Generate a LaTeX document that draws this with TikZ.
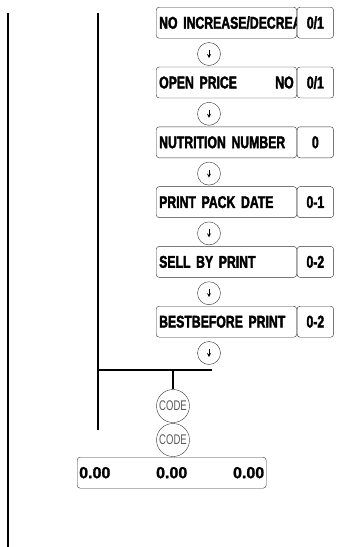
\documentclass[tikz,border=0pt]{standalone}
\usepackage{fontspec}
\usetikzlibrary{arrows}
\newfontfamily\boxfont[FakeStretch=0.72,FakeBold=2]{Liberation Sans}
\newfontfamily\codefont[FakeStretch=0.68]{Liberation Sans}
\newfontfamily\sumfont[FakeBold=1.5]{Liberation Sans}

\begin{document}
\begin{tikzpicture}[x=1pt,y=-1pt,
    itembox/.style = {draw=black!80, rounded corners=3pt, anchor=north west,
        minimum width=140.5pt, minimum height=31pt, text width=134.5pt,
        inner xsep=3pt, inner ysep=0pt, align=left,
        font=\boxfont\bfseries\fontsize{17}{19}\selectfont},
    valbox/.style = {draw=black!80, fill=white, rounded corners=3pt, anchor=north west,
        minimum width=36.5pt, minimum height=31pt, inner sep=0pt,
        font=\boxfont\bfseries\fontsize{17}{19}\selectfont},
    stepcircle/.style = {circle, draw=black!80, minimum size=23pt, inner sep=0pt},
    codecircle/.style = {circle, draw=black!80, minimum size=33pt, inner sep=0pt,
        text=black!65, font=\codefont\fontsize{14}{15}\selectfont},
    sumbox/.style = {draw=black!80, rounded corners=3pt, anchor=north west,
        minimum width=189pt, minimum height=31pt, text width=185pt,
        inner xsep=2pt, inner ysep=0pt, align=left,
        font=\sumfont\bfseries\fontsize{16}{18}\selectfont}]
\useasboundingbox (0,0) rectangle (352,547);
% side lines
\draw[line width=1.2pt] (8,13) -- (8,547);
\draw[line width=1.2pt] (98,13) -- (98,430);
% settings
\foreach \txt/\val [count=\i from 0] in {{\mbox{NO INCREASE/DECREA}}/{0/1},
    {OPEN PRICE\hfill NO\hspace{14pt}}/{0/1}, {NUTRITION NUMBER}/0,
    {PRINT PACK DATE}/0-1, {SELL BY PRINT}/0-2, {BESTBEFORE PRINT}/0-2}
{
    \node[itembox] (item\i) at (156,7+59.8*\i) {\txt};
    \node[valbox] (val\i) at (item\i.north east) {\val};
    \node[stepcircle] (step\i) at (209,54+59.8*\i) {};
    \draw[-stealth, line width=0.8pt] (step\i.center) ++(0,-4) -- ++(0,8);
}
% code keys
\draw[line width=1.2pt] (98,370) -- (212,370);
\coordinate (split) at (173,370);
\node[codecircle] (code1) at (173,406) {CODE};
\node[codecircle] (code2) at (173,440) {CODE};
\draw[line width=1.2pt] (split) -- (code1);
\node[sumbox] (total) at (77,457) {0.00\hfill 0.00\hfill 0.00\hspace{8pt}};
\end{tikzpicture}
\end{document}
